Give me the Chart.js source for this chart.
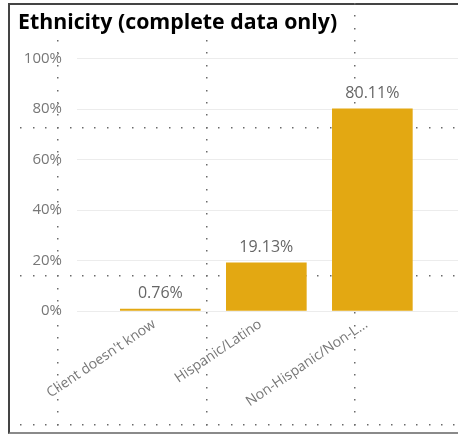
<!DOCTYPE html>
<html>
<head>
<meta charset="utf-8">
<script src="https://cdn.jsdelivr.net/npm/chart.js@4"></script>
<style>
  html, body { margin:0; padding:0; background:#fff; overflow:hidden; }
  #frame { position:absolute; left:8px; top:3px; width:460px; height:427px;
    border-top:2px solid #444; border-left:2px solid #444; border-bottom:2px solid #8a8a8a; }
  #wrap { position:absolute; left:0; top:0; width:458px; height:435px; }
</style>
</head>
<body>
<div id="frame"></div>
<div id="wrap"><canvas id="chart"></canvas></div>
<script>
// Data
const categories = ["Client doesn't know", "Hispanic/Latino", "Non-Hispanic/Non-L..."];
const shares = [0.76, 19.13, 80.11];
const yTicks = [0, 20, 40, 60, 80, 100];

const positions = categories.map((_, i) => i);
const BAR = '#E3A812';

// Power BI snap-grid dots behind the visual
const snapDots = {
  id: 'snapDots',
  beforeDatasetsDraw(chart){
    const ctx = chart.ctx;
    const step = 148.5 / 12;
    ctx.save();
    ctx.fillStyle = '#6a6a6a';
    const linesX = [58.3, 206.8, 355.3];
    const linesY = [127.7, 276.2, 424.7];
    const inTitle = (x, y) => y < 36 && x < 345;
    for (const lx of linesX){
      for (let y = 127.7 - step * 10; y < 435; y += step){
        if (!inTitle(lx, y)) ctx.fillRect(Math.round(lx) - 1, Math.round(y) - 1, 1.5, 1.5);
      }
    }
    for (const ly of linesY){
      for (let x = 58.3 - step * 4; x < 458; x += step){
        if (x > 12) ctx.fillRect(Math.round(x) - 1, Math.round(ly) - 1, 1.5, 1.5);
      }
    }
    ctx.restore();
  }
};

// value labels above bars
const barLabels = {
  id: 'barLabels',
  afterDatasetsDraw(chart){
    const ctx = chart.ctx;
    const meta = chart.getDatasetMeta(0);
    ctx.save();
    ctx.font = '16px "Open Sans"';
    ctx.fillStyle = '#666';
    ctx.textAlign = 'center';
    ctx.textBaseline = 'alphabetic';
    meta.data.forEach((bar, i) => {
      ctx.fillText(shares[i].toFixed(2) + '%', bar.x, bar.y - 11);
    });
    ctx.restore();
  }
};

new Chart(document.getElementById('chart'), {
  type: 'bar',
  data: {
    datasets: [{
      data: positions.map((x, i) => ({ x: x, y: shares[i] })),
      backgroundColor: BAR,
      barThickness: 80,
      borderWidth: 0
    }]
  },
  options: {
    responsive: true,
    maintainAspectRatio: false,
    animation: false,
    layout: { padding: { left: 18, right: 0, top: 0, bottom: 12 } },
    plugins: {
      legend: { display: false },
      tooltip: { enabled: false },
      title: {
        display: true,
        text: 'Ethnicity (complete data only)',
        align: 'start',
        color: '#000',
        font: { family: 'Open Sans', size: 21.3, weight: 'bold' },
        padding: { top: 10, bottom: 23 }
      }
    },
    scales: {
      x: {
        type: 'linear',
        offset: false,
        min: -0.786,
        max: 2.808,
        grid: { display: false, offset: false },
        border: { display: false },
        afterBuildTicks: s => { s.ticks = positions.map(v => ({ value: v })); },
        afterFit: s => { s.height = 112; },
        ticks: {
          autoSkip: false,
          minRotation: 34,
          maxRotation: 34,
          padding: -3,
          labelOffset: -6,
          color: '#777',
          font: { family: 'Open Sans', size: 14 },
          callback: v => categories[v]
        }
      },
      y: {
        min: 0,
        max: 100,
        afterBuildTicks: s => { s.ticks = yTicks.map(v => ({ value: v })); },
        afterFit: s => { s.width = 59; },
        grid: { color: '#ececec', drawTicks: false },
        border: { display: false },
        ticks: {
          padding: 15,
          color: '#777',
          font: { family: 'Open Sans', size: 15 },
          callback: v => v + '%'
        }
      }
    }
  },
  plugins: [snapDots, barLabels]
});
</script>
</body>
</html>
